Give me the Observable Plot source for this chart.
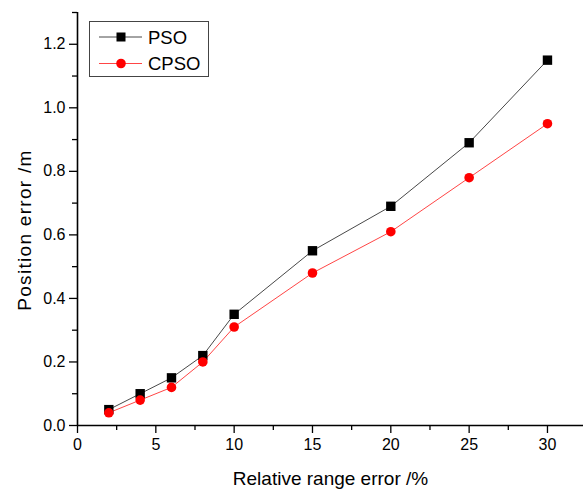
<!DOCTYPE html>
<html>
<head>
<meta charset="utf-8">
<script src="https://cdn.jsdelivr.net/npm/d3@7"></script>
<script src="https://cdn.jsdelivr.net/npm/@observablehq/plot@0.6"></script>
<style>
  html, body { margin: 0; padding: 0; background: #fff; }
  #chart { position: relative; width: 583px; height: 490px; }
</style>
</head>
<body>
<div id="chart"></div>
<script>
const rangeError = [2, 4, 6, 8, 10, 15, 20, 25, 30];
const psoError = [0.05, 0.10, 0.15, 0.22, 0.35, 0.55, 0.69, 0.89, 1.15];
const cpsoError = [0.04, 0.08, 0.12, 0.20, 0.31, 0.48, 0.61, 0.78, 0.95];
const seriesNames = ["PSO", "CPSO"];
const xTicks = [0, 5, 10, 15, 20, 25, 30];
const xMinor = [2.5, 7.5, 12.5, 17.5, 22.5, 27.5];
const yTicks = [0, 0.2, 0.4, 0.6, 0.8, 1.0, 1.2];
const yMinor = [0.1, 0.3, 0.5, 0.7, 0.9, 1.1, 1.3];
const xTitle = "Relative range error /%";
const yTitle = "Position error /m";

const pso = rangeError.map((x, i) => ({x, y: psoError[i]}));
const cpso = rangeError.map((x, i) => ({x, y: cpsoError[i]}));

const font = "'Liberation Sans', Arial, sans-serif";

const plot = Plot.plot({
  width: 583,
  height: 490,
  marginLeft: 77,
  marginRight: 0,
  marginTop: 12,
  marginBottom: 65,
  style: {fontFamily: font, background: "#fff", color: "#000"},
  x: {domain: [0, 32.3]},
  y: {domain: [0, 1.3]},
  marks: [
    Plot.axisX({ticks: xTicks, tickSize: 8, tickPadding: 5, fontSize: 16, tickFormat: d3.format("d"), label: null, strokeWidth: 1.3}),
    Plot.axisX({ticks: xMinor, tickSize: 5, tickFormat: () => "", label: null, strokeWidth: 1.3}),
    Plot.axisY({ticks: yTicks, tickSize: 8, tickPadding: 4, fontSize: 16, tickFormat: d3.format(".1f"), label: null, strokeWidth: 1.3}),
    Plot.axisY({ticks: yMinor, tickSize: 5, tickFormat: () => "", label: null, strokeWidth: 1.3}),
    Plot.ruleX([0], {stroke: "#000", strokeWidth: 1.6}),
    Plot.ruleY([0], {stroke: "#000", strokeWidth: 1.6}),
    Plot.text([xTitle], {frameAnchor: "bottom", textAnchor: "middle", dy: 59, lineAnchor: "bottom", fontSize: 19, fill: "#000"}),
    Plot.text([yTitle], {frameAnchor: "left", textAnchor: "middle", lineAnchor: "middle", dx: -53, dy: 11, rotate: -90, fontSize: 19, fill: "#000"}),
    Plot.line(pso, {x: "x", y: "y", stroke: "#333", strokeWidth: 0.9}),
    Plot.line(cpso, {x: "x", y: "y", stroke: "#ff3030", strokeWidth: 0.9}),
    Plot.dot(pso, {x: "x", y: "y", symbol: "square", r: 5.3, fill: "#000", stroke: "none"}),
    Plot.dot(cpso, {x: "x", y: "y", symbol: "circle", r: 4.8, fill: "#ff0000", stroke: "none"})
  ]
});

document.getElementById("chart").appendChild(plot);

// widen y title slightly to match the reference's lettering
d3.select(plot).selectAll("text").filter(function() { return this.textContent === yTitle; })
  .style("letter-spacing", "1.3px");

// Legend overlay
const svg = d3.select(plot);
const lg = svg.append("g").attr("font-family", font).attr("text-anchor", "start");
lg.append("rect").attr("x", 89.5).attr("y", 21.5).attr("width", 119).attr("height", 55)
  .attr("fill", "#fff").attr("stroke", "#444").attr("stroke-width", 1);
const items = [
  {name: seriesNames[0], color: "#333", fill: "#000", sym: "square"},
  {name: seriesNames[1], color: "#ff3030", fill: "#ff0000", sym: "circle"}
];
items.forEach((it, i) => {
  const cy = 37 + i * 26.5;
  lg.append("line").attr("x1", 99).attr("x2", 142).attr("y1", cy).attr("y2", cy)
    .attr("stroke", it.color).attr("stroke-width", 0.9);
  if (it.sym === "square") {
    lg.append("rect").attr("x", 121 - 4.5).attr("y", cy - 4.5).attr("width", 9).attr("height", 9).attr("fill", it.fill);
  } else {
    lg.append("circle").attr("cx", 121).attr("cy", cy).attr("r", 4.8).attr("fill", it.fill);
  }
  lg.append("text").attr("x", 148).attr("y", cy + 6.5).attr("font-size", 18.5).attr("fill", "#000").attr("text-anchor", "start").text(it.name);
});
</script>
</body>
</html>
